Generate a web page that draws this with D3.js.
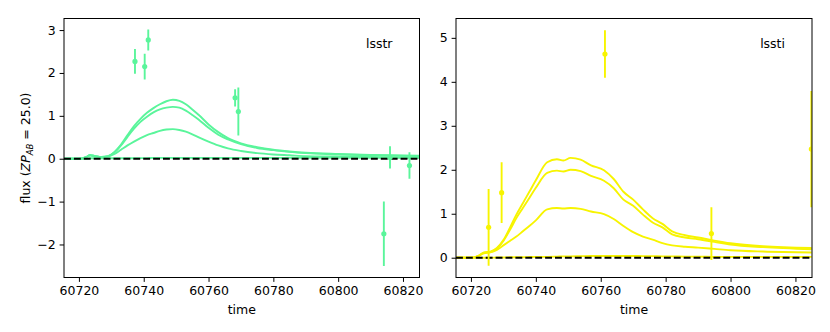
<!DOCTYPE html>
<html>
<head>
<meta charset="utf-8">
<script src="https://cdn.jsdelivr.net/npm/d3@7"></script>
<style>
  body { margin: 0; background: #fff; }
  svg { font-family: "DejaVu Sans", sans-serif; }
  .axis text { font-size: 12.5px; fill: #000; font-family: "DejaVu Sans", sans-serif; }
  .axis path, .axis line { stroke: #000; stroke-width: 1; }
</style>
</head>
<body>
<svg width="830" height="332"></svg>
<script>
// **** Data ****

var xTicks = [60720, 60740, 60760, 60780, 60800, 60820];
var rTicks = [-2, -1, 0, 1, 2, 3];
var iTicks = [0, 1, 2, 3, 4, 5];

// lsstr observations
var rObsTime = [60737.3, 60740.3, 60741.4, 60768.2, 60769.2, 60814.1, 60816.0, 60822.0];
var rObsFlux = [2.27, 2.15, 2.77, 1.42, 1.10, -1.75, 0.03, -0.16];
var rObsErr  = [0.29, 0.30, 0.245, 0.20, 0.56, 0.75, 0.26, 0.31];

// lsstr model curves
var rModelTime = [60715.3, 60720, 60722, 60723.5, 60725, 60727, 60729, 60731, 60733, 60735, 60737, 60739,
                  60741, 60743, 60745, 60747, 60749, 60751, 60753, 60755, 60757, 60760, 60763, 60766,
                  60770, 60775, 60780, 60785, 60790, 60800, 60810, 60825];
var rModelA = [0, 0, 0.03, 0.08, 0.06, 0.04, 0.06, 0.16, 0.33, 0.55, 0.76, 0.93, 1.07, 1.18, 1.27, 1.34,
               1.375, 1.35, 1.27, 1.15, 1.02, 0.80, 0.62, 0.48, 0.36, 0.27, 0.21, 0.17, 0.14, 0.11, 0.09, 0.07];
var rModelB = [0, 0, 0.03, 0.08, 0.06, 0.04, 0.06, 0.15, 0.31, 0.51, 0.70, 0.86, 0.98, 1.08, 1.15, 1.19,
               1.21, 1.19, 1.12, 1.02, 0.91, 0.72, 0.56, 0.45, 0.34, 0.25, 0.20, 0.16, 0.13, 0.10, 0.08, 0.06];
var rModelC = [0, 0, 0.03, 0.08, 0.06, 0.04, 0.05, 0.11, 0.21, 0.31, 0.40, 0.48, 0.55, 0.60, 0.65, 0.68,
               0.69, 0.67, 0.63, 0.57, 0.50, 0.40, 0.31, 0.24, 0.18, 0.13, 0.10, 0.08, 0.06, 0.05, 0.04, 0.03];
var rModelD = [0, 0, 0, 0.01, 0.01, 0.01, 0.01, 0.01, 0.01, 0.01, 0.01, 0.015, 0.015, 0.02, 0.02, 0.02,
               0.02, 0.02, 0.02, 0.02, 0.02, 0.02, 0.02, 0.02, 0.02, 0.02, 0.02, 0.02, 0.02, 0.02, 0.02, 0.02];

// lssti observations
var iObsTime = [60725.45, 60729.46, 60761.3, 60794.1, 60824.9];
var iObsFlux = [0.69, 1.48, 4.63, 0.55, 2.47];
var iObsErr  = [0.87, 0.69, 0.54, 0.60, 1.32];

// lssti model curves
var iModelTime = [60715.5, 60720, 60722, 60724, 60726, 60728, 60730, 60732, 60734, 60736, 60738, 60740,
                  60743.5, 60746.5, 60748.5, 60750.7, 60753.8, 60757, 60761, 60764, 60767, 60770, 60773,
                  60776, 60779, 60782, 60786, 60790, 60795, 60800, 60810, 60825];
var iModelA = [0, 0, 0.03, 0.12, 0.14, 0.22, 0.40, 0.68, 0.98, 1.24, 1.50, 1.76, 2.17, 2.24, 2.21, 2.27,
               2.23, 2.10, 1.99, 1.79, 1.50, 1.32, 1.10, 0.90, 0.77, 0.60, 0.51, 0.46, 0.39, 0.33, 0.26, 0.22];
var iModelB = [0, 0, 0.03, 0.11, 0.13, 0.21, 0.38, 0.63, 0.90, 1.13, 1.36, 1.59, 1.93, 1.98, 1.96, 2.00,
               1.97, 1.86, 1.75, 1.58, 1.32, 1.18, 0.98, 0.80, 0.69, 0.53, 0.46, 0.42, 0.36, 0.30, 0.24, 0.19];
var iModelC = [0, 0, 0.03, 0.10, 0.12, 0.18, 0.28, 0.38, 0.48, 0.60, 0.72, 0.85, 1.10, 1.13, 1.12, 1.13,
               1.11, 1.05, 0.99, 0.88, 0.72, 0.58, 0.48, 0.41, 0.33, 0.28, 0.25, 0.23, 0.20, 0.17, 0.14, 0.12];
var iModelD = [0, 0, 0, 0, 0, 0.005, 0.005, 0.01, 0.01, 0.01, 0.015, 0.02, 0.02, 0.025, 0.03, 0.03,
               0.035, 0.04, 0.04, 0.04, 0.04, 0.04, 0.035, 0.035, 0.03, 0.03, 0.025, 0.025, 0.02, 0.02, 0.02, 0.02];

// **** Layout ****

var plotTop = 18.5, plotBottom = 277.5;
var svg = d3.select('svg');

var panels = [
    {id: 'r', left: 64, right: 419.5, yDomain: [-2.77, 3.27], yTicks: rTicks, color: '#5af59b', label: 'lsstr',
     obsT: rObsTime, obsF: rObsFlux, obsE: rObsErr, modT: rModelTime, models: [rModelA, rModelB, rModelC, rModelD]},
    {id: 'i', left: 456, right: 812, yDomain: [-0.45, 5.44], yTicks: iTicks, color: '#f7f400', label: 'lssti',
     obsT: iObsTime, obsF: iObsFlux, obsE: iObsErr, modT: iModelTime, models: [iModelA, iModelB, iModelC, iModelD]}
];

panels.forEach(drawPanel);

// y label on left panel
svg.append('text')
    .attr('transform', 'translate(30,' + ((plotTop + plotBottom) / 2) + ') rotate(-90)')
    .attr('text-anchor', 'middle')
    .style('font-size', '12.5px')
    .html('flux (<tspan font-style="italic">ZP</tspan><tspan font-style="italic" font-size="8.5px" dy="3">AB</tspan><tspan dy="-3"> = 25.0)</tspan>');

function drawPanel(p) {
    var x = d3.scaleLinear().domain([60715.4, 60825.1]).range([p.left, p.right]);
    var y = d3.scaleLinear().domain(p.yDomain).range([plotBottom, plotTop]);

    svg.append('clipPath').attr('id', 'clip-' + p.id)
        .append('rect')
        .attr('x', p.left).attr('y', plotTop)
        .attr('width', p.right - p.left).attr('height', plotBottom - plotTop);

    var g = svg.append('g').attr('clip-path', 'url(#clip-' + p.id + ')');

    var line = d3.line()
        .x(function(d) { return x(d[0]); })
        .y(function(d) { return y(d[1]); })
        .curve(d3.curveMonotoneX);

    p.models.forEach(function(m) {
        g.append('path')
            .datum(p.modT.map(function(t, i) { return [t, m[i]]; }))
            .attr('d', line)
            .attr('fill', 'none')
            .attr('stroke', p.color)
            .attr('stroke-width', 1.9);
    });

    // zero line
    g.append('line')
        .attr('x1', p.left).attr('x2', p.right)
        .attr('y1', y(0)).attr('y2', y(0))
        .attr('stroke', '#000')
        .attr('stroke-width', 1.9)
        .attr('stroke-dasharray', '6.9,3');

    var obs = p.obsT.map(function(t, i) { return {t: t, f: p.obsF[i], e: p.obsE[i]}; });

    g.selectAll('.err').data(obs).enter().append('line')
        .attr('x1', function(d) { return x(d.t); })
        .attr('x2', function(d) { return x(d.t); })
        .attr('y1', function(d) { return y(d.f - d.e); })
        .attr('y2', function(d) { return y(d.f + d.e); })
        .attr('stroke', p.color)
        .attr('stroke-width', 1.9);

    g.selectAll('.pt').data(obs).enter().append('circle')
        .attr('cx', function(d) { return x(d.t); })
        .attr('cy', function(d) { return y(d.f); })
        .attr('r', 2.6)
        .attr('fill', p.color);

    // axes
    svg.append('g').attr('class', 'axis')
        .attr('transform', 'translate(0,' + plotBottom + ')')
        .call(d3.axisBottom(x).tickValues(xTicks).tickFormat(d3.format('d')).tickSizeOuter(0).tickSize(4.4).tickPadding(4))
        .select('.domain').remove();

    svg.append('g').attr('class', 'axis')
        .attr('transform', 'translate(' + p.left + ',0)')
        .call(d3.axisLeft(y).tickValues(p.yTicks).tickFormat(d3.format('d')).tickSize(4.4).tickPadding(4))
        .select('.domain').remove();

    svg.append('rect')
        .attr('x', p.left).attr('y', plotTop)
        .attr('width', p.right - p.left).attr('height', plotBottom - plotTop)
        .attr('fill', 'none').attr('stroke', '#000').attr('stroke-width', 1);

    svg.append('text')
        .attr('x', p.right - 27).attr('y', 48)
        .attr('text-anchor', 'end')
        .style('font-size', '12.5px')
        .text(p.label);

    svg.append('text')
        .attr('x', (p.left + p.right) / 2).attr('y', 314)
        .attr('text-anchor', 'middle')
        .style('font-size', '12.5px')
        .text('time');
}
</script>
</body>
</html>
